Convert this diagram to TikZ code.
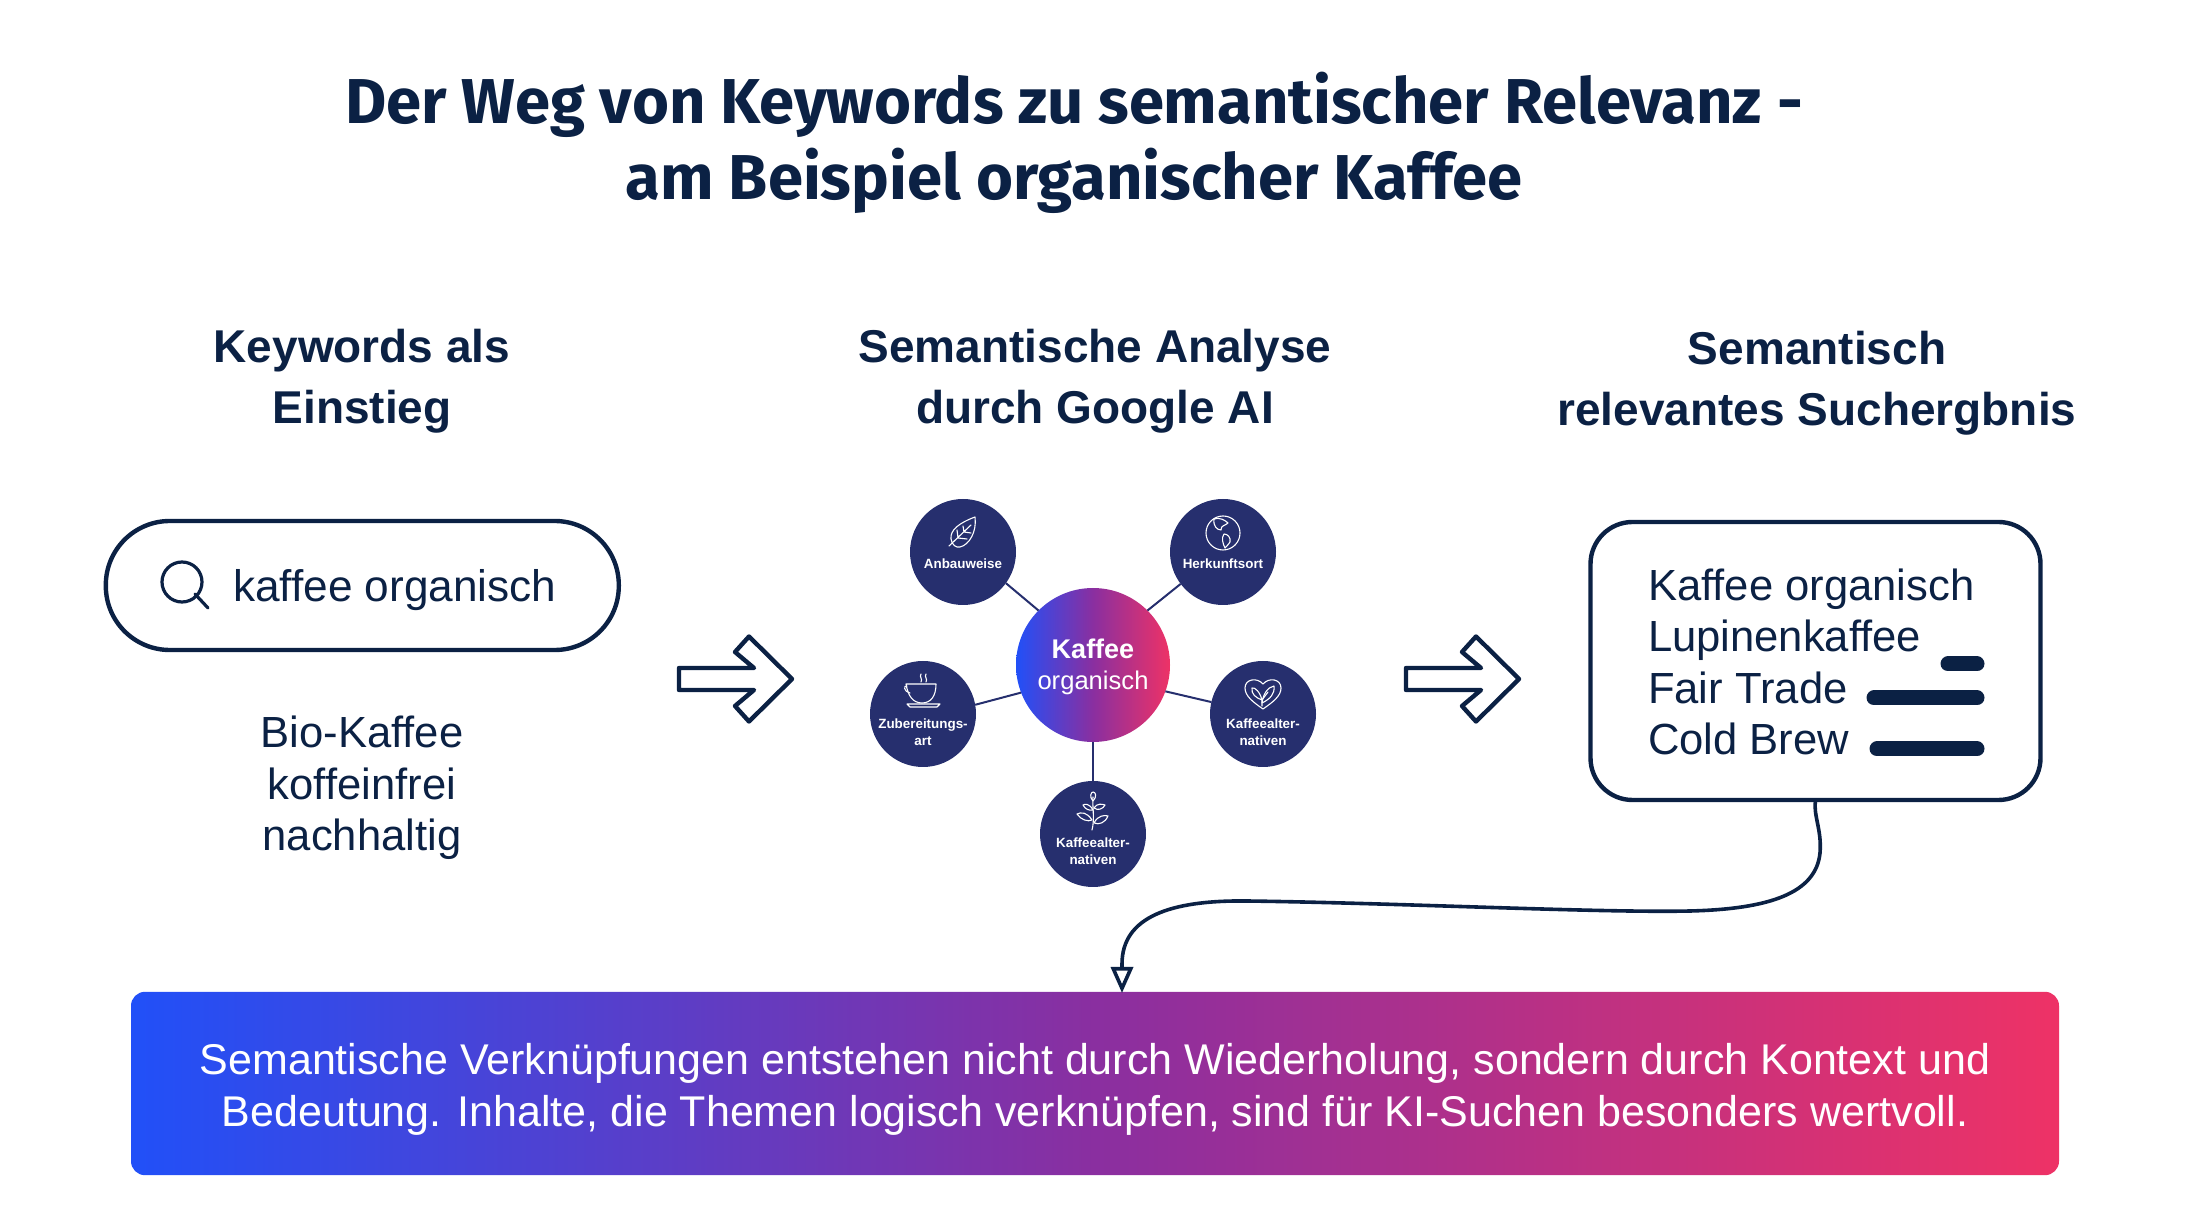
\documentclass[tikz,border=0pt]{standalone}
\usepackage{fontspec}
\setmainfont{Liberation Sans}
\newfontfamily\titlefont{Fira Sans}
\usetikzlibrary{arrows.meta}
\definecolor{navy}{HTML}{0B2144}
\definecolor{discblue}{HTML}{262F6E}
\definecolor{gradblue}{HTML}{2150F8}
\definecolor{gradmid}{HTML}{8A2FA0}
\definecolor{gradpink}{HTML}{EE3266}
\tikzset{
  x=0.5pt,
  y=-0.5pt,
  every node/.style={inner sep=0pt, outer sep=0pt, text=navy},
  titletext/.style={font=\titlefont\bfseries\fontsize{31.7}{38}\selectfont, align=center},
  headtext/.style={font=\bfseries\fontsize{23}{30.7}\selectfont, align=center},
  bodytext/.style={font=\fontsize{21.8}{25.75}\selectfont},
  outline/.style={draw=navy, line width=2.2pt},
  gradfill/.style={left color=gradblue, right color=gradpink, middle color=gradmid},
  topic/.style={circle, fill=discblue, minimum size=53pt},
  topictext/.style={text=white, font=\bfseries\fontsize{6.7}{8.4}\selectfont, align=center},
  spoke/.style={draw=discblue, line width=1pt},
  rankbar/.style={draw=navy, line width=7.5pt, line cap=round},
  iconline/.style={draw=white, line width=0.55pt, line join=round, line cap=round},
  pics/stepsign/.style={code={
    \draw[outline, line join=round] (0,-11) -- (75,-11) -- (56,-27) -- (70,-42.5) -- (113,0)
      -- (70,42.5) -- (56,27) -- (75,11) -- (0,11) -- cycle;
  }},
  pics/leafmark/.style={code={
    \draw[iconline] (12,-35) .. controls (-4,-29) and (-13,-22) .. (-12,-13)
      .. controls (-11,-7) and (-7,-4) .. (-3,-5) .. controls (6,-7) and (14,-20) .. (12,-35);
    \draw[iconline] (-14,-6) -- (8,-27) (-5,-14) -- (-6,-22) (-5,-14) -- (4,-13)
      (1,-20) -- (0,-26) (1,-20) -- (8,-19);
  }},
  pics/globemark/.style={code={
    \draw[iconline] (0,-19) circle (17);
    \draw[iconline] (-9,-33) .. controls (-4,-35) and (2,-32) .. (5,-29) .. controls (2,-26) and (-2,-27) .. (-2,-22)
      .. controls (-6,-22) and (-10,-26) .. (-9,-33);
    \draw[iconline] (1,-18) .. controls (5,-18) and (8,-14) .. (7,-10) .. controls (5,-7) and (3,-5) .. (2,-4)
      .. controls (0,-8) and (-2,-14) .. (1,-18);
  }},
  pics/cupmark/.style={code={
    \draw[iconline] (-17,-30) -- (13,-30) .. controls (13,-18) and (8,-11) .. (-1,-11)
      .. controls (-10,-11) and (-15,-18) .. (-17,-30);
    \draw[iconline] (-16,-28) .. controls (-20,-29) and (-19,-22) .. (-13,-21);
    \draw[iconline] (-16,-10) -- (17,-10) -- (14,-7) -- (-13,-7) -- cycle;
    \draw[iconline] (-2,-40) .. controls (-4,-37) and (0,-35) .. (-2,-32)
      (3,-40) .. controls (1,-37) and (5,-35) .. (3,-32);
  }},
  pics/heartmark/.style={code={
    \draw[iconline] (0,-5) .. controls (-10,-12) and (-18,-18) .. (-18,-26) .. controls (-18,-35) and (-6,-37) .. (0,-30)
      .. controls (6,-37) and (18,-35) .. (18,-26) .. controls (18,-18) and (10,-12) .. (0,-5);
    \draw[iconline] (-1,-11) .. controls (0,-20) and (5,-27) .. (11,-28) .. controls (12,-20) and (7,-15) .. (-1,-11);
    \draw[iconline] (-1,-14) .. controls (-3,-22) and (-8,-27) .. (-11,-26) .. controls (-12,-20) and (-7,-16) .. (-1,-14);
    \draw[iconline] (-1,-8) -- (-1,-14) -- (5,-22);
  }},
  pics/plantmark/.style={code={
    \draw[iconline] (-1,-4) .. controls (2,-15) and (-1,-30) .. (0,-37);
    \draw[iconline] (0,-33) .. controls (-4,-37) and (-2,-42) .. (0,-42) .. controls (3,-42) and (4,-37) .. (0,-33);
    \draw[iconline] (0,-24) .. controls (-4,-31) and (-8,-30) .. (-10,-29) .. controls (-8,-25) and (-4,-23) .. (0,-24);
    \draw[iconline] (1,-26) .. controls (4,-31) and (9,-30) .. (12,-29) .. controls (10,-25) and (5,-23) .. (1,-26);
    \draw[iconline] (-1,-14) .. controls (-6,-22) and (-12,-22) .. (-16,-20) .. controls (-12,-14) and (-5,-12) .. (-1,-14);
    \draw[iconline] (1,-11) .. controls (5,-19) and (12,-19) .. (15,-18) .. controls (12,-11) and (6,-9) .. (1,-11);
  }},
}
\begin{document}
\begin{tikzpicture}
  \useasboundingbox (0,0) rectangle (2186,1218);

  \node[titletext] (title) at (1074,143) {Der Weg von Keywords zu semantischer Relevanz -\\am Beispiel organischer Kaffee};

  \node[headtext] (headleft)  at (362,381)  {Keywords als\\Einstieg};
  \node[headtext] (headmid)   at (1095,381) {Semantische Analyse\\durch Google AI};
  \node[headtext] (headright) at (1817,383) {Semantisch\\relevantes Suchergbnis};

  % search field
  \node[outline, rounded corners=32pt, minimum width=256.5pt, minimum height=64.5pt] (searchpill) at (362.3,585.5) {};
  \node[bodytext, anchor=base west, font=\fontsize{22.1}{25.75}\selectfont] (searchtext) at (233,602) {kaffee organisch};
  \draw[draw=navy, line width=1.6pt] (182,582) circle (20);
  \draw[draw=navy, line width=1.6pt, line cap=round] (195,594) -- (208,608);
  \node[bodytext, align=center] (keywordlist) at (362,788) {Bio-Kaffee\\koffeinfrei\\nachhaltig};

  \pic at (679,679) {stepsign};
  \pic at (1406,679) {stepsign};

  % hub and topics
  \node[circle, gradfill, minimum size=77pt] (hub) at (1093,665) {};
  \node[text=white, anchor=base, font=\bfseries\fontsize{13.5}{16}\selectfont] (hubtop) at (1093,659) {Kaffee};
  \node[text=white, anchor=base, font=\fontsize{12.8}{16}\selectfont] (hubbottom) at (1093,690) {organisch};

  \node[topic] (anbau)     at (963,552)  {};
  \node[topic] (herkunft)  at (1223,552) {};
  \node[topic] (zubereit)  at (923,714)  {};
  \node[topic] (altright)  at (1263,714) {};
  \node[topic] (altbottom) at (1093,834) {};

  \draw[spoke] (anbau.-36) -- (hub.135);
  \draw[spoke] (herkunft.217) -- (hub.45);
  \draw[spoke] (zubereit.10) -- (hub.201);
  \draw[spoke] (altright.167) -- (hub.-20);
  \draw[spoke] (altbottom.north) -- (hub.south);

  \pic at (anbau) {leafmark};
  \pic at (herkunft) {globemark};
  \pic at (zubereit) {cupmark};
  \pic at (altright) {heartmark};
  \pic at (altbottom) {plantmark};

  \node[topictext] (anbautext)     at (963,564)   {Anbauweise};
  \node[topictext] (herkunfttext)  at (1223,564)  {Herkunftsort};
  \node[topictext] (zubereittext)  at (923,732.5) {Zubereitungs-\\art};
  \node[topictext] (altrighttext)  at (1263,732.5) {Kaffeealter-\\nativen};
  \node[topictext] (altbottomtext) at (1093,851.5) {Kaffeealter-\\nativen};

  % result card
  \node[outline, rounded corners=21pt, minimum width=225pt, minimum height=139pt] (resultbox) at (1815.5,661) {};
  \node[bodytext, align=left, anchor=west] (resulttext) at (1648,662) {Kaffee organisch\\Lupinenkaffee\\Fair Trade\\Cold Brew};
  \draw[rankbar] (1948,664) -- (1977,664);
  \draw[rankbar] (1874,698) -- (1977,698);
  \draw[rankbar] (1877,749) -- (1977,749);

  % banner
  \node[gradfill, rounded corners=7pt, minimum width=964pt, minimum height=91.7pt] (banner) at (1095,1083.5) {};
  \node[text=white, font=\fontsize{21.5}{25.9}\selectfont, align=center] (bannertext) at (1095,1089)
    {Semantische Verknüpfungen entstehen nicht durch Wiederholung, sondern durch Kontext und\\Bedeutung. Inhalte, die Themen logisch verknüpfen, sind für KI-Suchen besonders wertvoll.};
  \coordinate (bannerin) at (1122,993);

  \draw[navy, line width=1.8pt, -{Triangle[open, length=13pt, width=11pt]}] (resultbox.south)
    .. controls (1813,815) and (1822,830) .. (1820,853)
    .. controls (1816,893) and (1770,909) .. (1690,911)
    .. controls (1600,913) and (1400,903) .. (1247,901)
    .. controls (1170,900) and (1122,917) .. (1122,964) -- (bannerin);
\end{tikzpicture}
\end{document}
